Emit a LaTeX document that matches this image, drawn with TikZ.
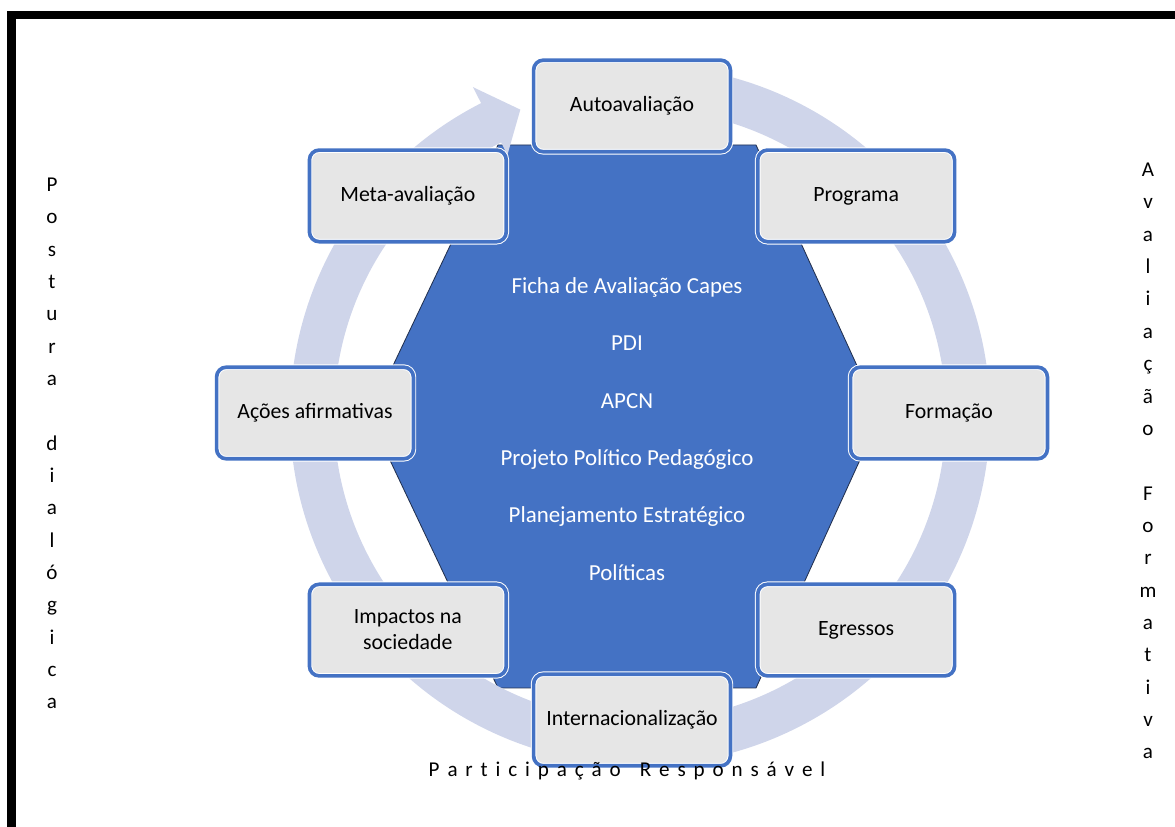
\documentclass[tikz,border=0pt]{standalone}
\usepackage{fontspec}
\setmainfont{Carlito}
\usetikzlibrary{calc}

\definecolor{hexblue}{HTML}{4472C4}
\definecolor{hexline}{HTML}{22304F}
\definecolor{boxgray}{HTML}{E6E6E6}
\definecolor{bandblue}{HTML}{CFD5EA}

\newcommand\espacado[1]{\espacadoloop#1\relax}
\def\espacadoloop#1{\ifx#1\relax\else#1\hspace{5.6pt}\expandafter\espacadoloop\fi}

\tikzset{
  etapa/.style={rectangle, rounded corners=7pt, fill=boxgray, draw=white, line width=0.7pt,
    double=hexblue, double distance=2.6pt, minimum width=4.92cm, minimum height=2.29cm,
    align=center, font=\fontsize{15.5}{18.5}\selectfont},
  vertical/.style={align=center, font=\fontsize{15}{23}\selectfont}
}

\begin{document}
\begin{tikzpicture}[x=0.025cm, y=0.025cm]
\useasboundingbox (0,0) rectangle (1175,827);
% moldura
\draw[line width=5.8pt] (11.5,0) -- (11.5,812) -- (1175,812);
% hexagono central
\filldraw[fill=hexblue, draw=hexline, line width=0.6pt]
  (498,682) -- (756,682) -- (880,411) -- (756,139) -- (498,139) -- (369,411) -- cycle;
% seta circular
\begin{scope}[shift={(640,412)}]
  \fill[bandblue] (117:292) -- (111.4:328) -- (117:368) -- (117:350)
    arc[start angle=117, end angle=445, radius=350] -- (445:306)
    arc[start angle=445, end angle=117, radius=306] -- cycle;
\end{scope}
\node[text=white, align=center, font=\fontsize{16.3}{40.8}\selectfont] (docs) at (627,398)
  {Ficha de Avaliação Capes\\PDI\\APCN\\Projeto Político Pedagógico\\Planejamento Estratégico\\Políticas};
% etapas
\coordinate (centro) at (632,414);
\foreach \ang/\nome/\rotulo in {90/auto/Autoavaliação, 45/prog/Programa, 0/form/Formação,
    -45/egr/Egressos, -90/inter/Internacionalização, -135/imp/{Impactos na\\sociedade},
    180/acoes/Ações afirmativas, 135/meta/Meta-avaliação}
  \node[etapa] (\nome) at ($(centro)+(\ang:317 and 307)$) {\rotulo};
% textos laterais
\node[vertical] (postura) at (52,383.5)
  {P\\o\\s\\t\\u\\r\\a\\[23pt]d\\i\\a\\l\\ó\\g\\i\\c\\a};
\node[vertical] (formativa) at (1148,366)
  {A\\v\\a\\l\\i\\a\\ç\\ã\\o\\[23pt]F\\o\\r\\m\\a\\t\\i\\v\\a};
\node[font=\fontsize{15}{18}\selectfont] (participacao) at (627,56)
  {\espacado{Participação}\hspace{8pt}\espacado{Responsável}};
\end{tikzpicture}
\end{document}
